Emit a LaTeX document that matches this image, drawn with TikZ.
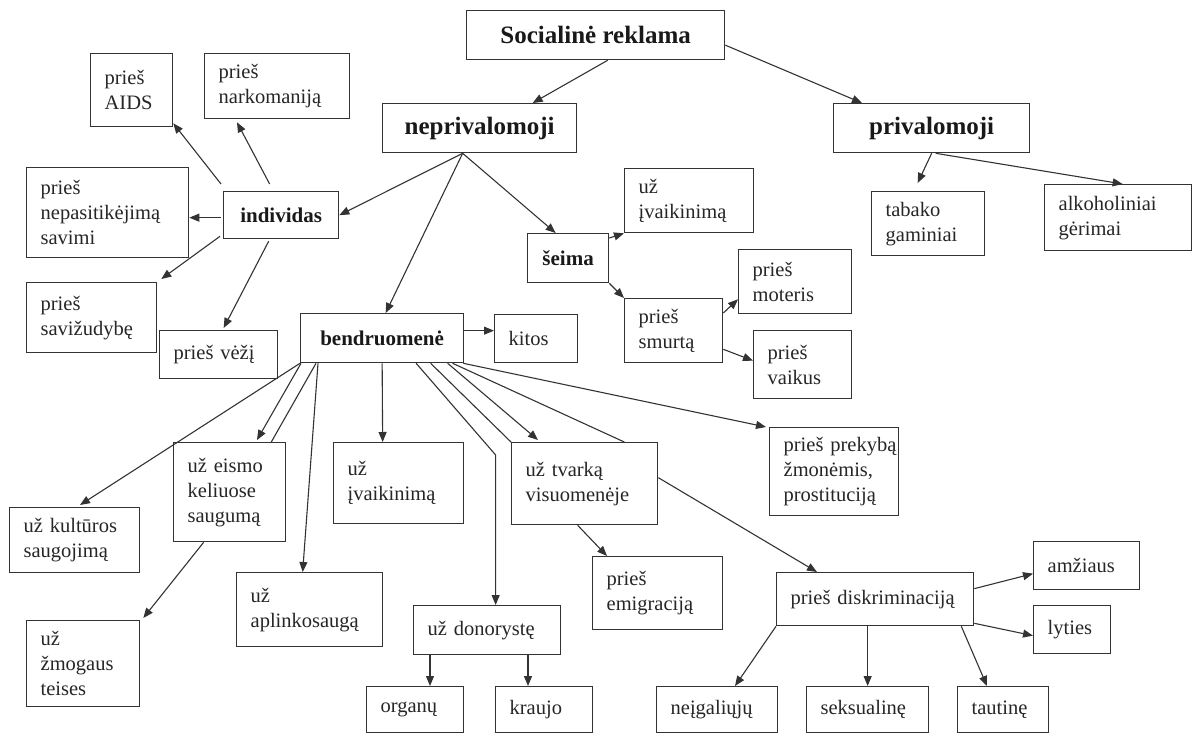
\documentclass[tikz,border=0pt]{standalone}
\usepackage{fontspec}
\setmainfont{Liberation Serif}
\usepackage{tikz}
\usetikzlibrary{arrows.meta}

\begin{document}
\begin{tikzpicture}[
  box/.style={draw=black!80, line width=1.3pt, anchor=north west, inner xsep=14pt, inner ysep=0pt, align=left, text=black!85, font=\fontsize{20.5}{25}\selectfont},
  head/.style={draw=black!80, line width=1.3pt, anchor=north west, inner sep=0pt, align=center, text=black!90, font=\fontsize{21}{25}\selectfont\bfseries},
  mainbox/.style={head, font=\fontsize{25}{30}\selectfont\bfseries},
  arr/.style={draw=black!80, line width=1.1pt, -{Triangle[length=10pt,width=8pt]}},
  ln/.style={draw=black!80, line width=1.1pt}]
\useasboundingbox (0pt,0pt) rectangle (1199pt,-734pt);
\node (soc) [mainbox, minimum width=258pt, minimum height=49pt] at (466pt, -10pt) {Socialinė reklama};
\node (nepr) [mainbox, minimum width=194pt, minimum height=49pt] at (382pt, -103pt) {neprivalomoji};
\node (priv) [mainbox, minimum width=196pt, minimum height=49pt] at (833pt, -103pt) {privalomoji};
\node (tab) [box, text width=85pt, minimum height=64pt] at (871pt, -191pt) {tabako\\gaminiai};
\node (alk) [box, text width=119pt, minimum height=66pt] at (1044pt, -184pt) {alkoholiniai\\gėrimai};
\node (aids) [box, text width=54pt, minimum height=73pt] at (90pt, -53pt) {prieš\\AIDS};
\node (nark) [box, text width=117pt, minimum height=65pt] at (204pt, -53pt) {prieš\\narkomaniją};
\node (nepas) [box, text width=134pt, minimum height=90pt] at (26pt, -167pt) {prieš\\nepasitikėjimą\\savimi};
\node (ind) [head, minimum width=115pt, minimum height=47pt] at (223pt, -191pt) {individas};
\node (saviz) [box, text width=102pt, minimum height=70pt] at (26pt, -282pt) {prieš\\savižudybę};
\node (vez) [box, text width=90pt, minimum height=48pt] at (159pt, -330pt) {prieš vėžį};
\node (seima) [head, minimum width=81pt, minimum height=49pt] at (527pt, -233pt) {šeima};
\node (ivaik1) [box, text width=101pt, minimum height=64pt] at (624pt, -168pt) {už\\įvaikinimą};
\node (smurt) [box, text width=70pt, minimum height=64pt] at (624pt, -298pt) {prieš\\smurtą};
\node (mot) [box, text width=85pt, minimum height=64pt] at (738pt, -249pt) {prieš\\moteris};
\node (vaik) [box, text width=70pt, minimum height=68pt] at (753pt, -330pt) {prieš\\vaikus};
\node (bendr) [head, minimum width=163pt, minimum height=49pt] at (300pt, -313pt) {bendruomenė};
\node (kitos) [box, text width=55pt, minimum height=48pt] at (494pt, -314pt) {kitos};
\node (prek) [box, text width=101pt, minimum height=88pt] at (769pt, -427pt) {\mbox{prieš prekybą}\\žmonėmis,\\prostituciją};
\node (kult) [box, text width=102pt, minimum height=65pt] at (9pt, -507pt) {už kultūros\\saugojimą};
\node (eism) [box, text width=84pt, minimum height=99pt] at (173pt, -442pt) {už eismo\\keliuose\\saugumą};
\node (ivaik2) [box, text width=102pt, minimum height=81pt] at (333pt, -442pt) {už\\įvaikinimą};
\node (tvark) [box, text width=118pt, minimum height=82pt] at (511pt, -442pt) {už tvarką\\visuomenėje};
\node (zmog) [box, text width=85pt, minimum height=86pt] at (26pt, -620pt) {už\\žmogaus\\teises};
\node (aplink) [box, text width=118pt, minimum height=74pt] at (236pt, -572pt) {už\\aplinkosaugą};
\node (donor) [box, text width=119pt, minimum height=49pt] at (413pt, -605pt) {už donorystę};
\node (org) [box, text width=69pt, minimum height=46pt] at (366pt, -686pt) {organų};
\node (krau) [box, text width=69pt, minimum height=46pt] at (495pt, -686pt) {kraujo};
\node (emig) [box, text width=102pt, minimum height=73pt] at (592pt, -556pt) {prieš\\emigraciją};
\node (disk) [box, text width=169pt, minimum height=53pt] at (776pt, -572pt) {prieš diskriminaciją};
\node (amz) [box, text width=78pt, minimum height=48pt] at (1033pt, -541pt) {amžiaus};
\node (lyt) [box, text width=49pt, minimum height=48pt] at (1033pt, -605pt) {lyties};
\node (neig) [box, text width=93pt, minimum height=46pt] at (656pt, -686pt) {neįgaliųjų};
\node (seks) [box, text width=94pt, minimum height=46pt] at (806pt, -686pt) {seksualinę};
\node (taut) [box, text width=63pt, minimum height=46pt] at (957pt, -686pt) {tautinę};
\draw [arr] ([xshift=12pt]soc.south) -- ([xshift=53pt]nepr.north);
\draw [arr] ([yshift=-10pt]soc.east) -- ([xshift=29pt]priv.north west);
\draw [arr] (priv.south) -- ([xshift=-10.5pt,yshift=8pt]tab.north);
\draw [arr] ([xshift=4pt]priv.south) -- ([xshift=4.5pt]alk.north);
\draw [arr] ([xshift=-17pt]nepr.south) -- (ind.east);
\draw [arr] ([xshift=-17pt]nepr.south) -- ([xshift=3.5pt]bendr.north);
\draw [arr] ([xshift=-17pt]nepr.south) -- ([xshift=-12.5pt]seima.north);
\draw [arr] ([yshift=-5pt]seima.north east) -- (ivaik1.south west);
\draw [arr] (seima.south east) -- (smurt.north west);
\draw [arr] ([yshift=-15pt]smurt.north east) -- ([yshift=15pt]mot.south west);
\draw [arr] ([yshift=14pt]smurt.south east) -- ([yshift=4pt]vaik.west);
\draw [arr] ([xshift=-2pt,yshift=7pt]ind.north west) -- ([yshift=4pt]aids.south east);
\draw [arr] ([xshift=-11.5pt,yshift=7pt]ind.north) -- ([xshift=33pt,yshift=-3pt]nark.south west);
\draw [arr] ([xshift=-2pt,yshift=-2.5pt]ind.west) -- ([yshift=-5pt]nepas.east);
\draw [arr] ([xshift=-3pt,yshift=3pt]ind.south west) -- ([xshift=4pt,yshift=3pt]saviz.north east);
\draw [arr] ([xshift=-12.5pt,yshift=-2pt]ind.south) -- ([xshift=5pt,yshift=2pt]vez.north);
\draw [arr] ([yshift=7.5pt]bendr.east) -- ([yshift=8pt]kitos.west);
\draw [arr] (bendr.south west) -- ([xshift=71pt,yshift=2pt]kult.north west);
\draw [arr] ([xshift=1pt]bendr.south west) -- ([xshift=84pt,yshift=2pt]eism.north west);
\draw [ln] ([xshift=16pt]bendr.south west) -- ([xshift=-15pt]eism.north east);
\draw [arr] ([xshift=18pt]bendr.south west) -- ([xshift=-7pt]aplink.north);
\draw [arr] (bendr.south) -- ([xshift=-16pt]ivaik2.north);
\draw [arr] ([xshift=34pt]bendr.south) -- ([xshift=8.5pt,yshift=150pt]donor.north) -- ([xshift=8.5pt]donor.north);
\draw [ln] ([xshift=48.5pt]bendr.south) -- (tvark.north west);
\draw [arr] ([xshift=65.5pt]bendr.south) -- ([xshift=27pt,yshift=2pt]tvark.north west);
\draw [ln] ([xshift=70.5pt]bendr.south) -- ([xshift=-34pt]tvark.north east);
\draw [arr] ([yshift=6pt]tvark.east) -- ([xshift=41pt]disk.north west);
\draw [arr] ([xshift=-1pt]bendr.south east) -- ([xshift=-3pt]prek.north west);
\draw [arr] ([xshift=-26pt]eism.south) -- ([xshift=3pt,yshift=2pt]zmog.north east);
\draw [arr] ([xshift=-7pt]tvark.south) -- ([xshift=15pt]emig.north west);
\draw [arr] ([xshift=17pt]donor.south west) -- ([xshift=64pt]org.north west);
\draw [arr] ([xshift=115pt]donor.south west) -- ([xshift=33pt]krau.north west);
\draw [arr] (disk.south west) -- ([xshift=79pt]neig.north west);
\draw [arr] ([xshift=-7.5pt]disk.south) -- (seks.north);
\draw [arr] ([xshift=-13pt]disk.south east) -- ([xshift=30pt]taut.north west);
\draw [arr] ([yshift=10.5pt]disk.east) -- ([yshift=-8pt]amz.west);
\draw [arr] ([yshift=3pt]disk.south east) -- ([yshift=-6pt]lyt.west);
\end{tikzpicture}
\end{document}
